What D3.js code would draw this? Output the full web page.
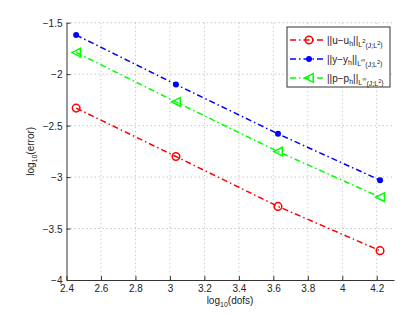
<!DOCTYPE html>
<html>
<head>
<meta charset="utf-8">
<script src="https://cdn.jsdelivr.net/npm/d3@7"></script>
<style>
  body { margin: 0; background: #fff; }
  svg { display: block; font-family: "Liberation Sans", Arial, sans-serif; }
  .grid line { stroke: #c8c8c8; stroke-dasharray: 1.5,2.5; }
</style>
</head>
<body>
<svg width="420" height="315"></svg>
<script>
// log10(dofs) for each refinement level
var logDofs = [2.456, 3.035, 3.627, 4.219];

// log10(error) for each norm
var errU = [-2.33, -2.80, -3.285, -3.715];
var errY = [-1.62, -2.10, -2.58, -3.03];
var errP = [-1.79, -2.27, -2.752, -3.195];

var xTicks = [2.4, 2.6, 2.8, 3, 3.2, 3.4, 3.6, 3.8, 4, 4.2];
var yTicks = [-4, -3.5, -3, -2.5, -2, -1.5];

var series = [
  { name: "u", sub: "h", sup: "2", vals: errU, color: "#ff0000", marker: "circle" },
  { name: "y", sub: "h", sup: "\u221e", vals: errY, color: "#0000ff", marker: "dot" },
  { name: "p", sub: "h", sup: "\u221e", vals: errP, color: "#00ff00", marker: "tri" }
];

var svg = d3.select("svg");
var pLeft = 66.5, pRight = 394, pTop = 22.7, pBottom = 280;

var x = d3.scaleLinear().domain([2.4, 4.3]).range([pLeft, pRight]);
var y = d3.scaleLinear().domain([-4, -1.5]).range([pBottom, pTop]);

// grid
var grid = svg.append("g").attr("class", "grid");
grid.selectAll(".gx").data(xTicks.slice(1)).enter().append("line")
    .attr("x1", function(d) { return x(d); }).attr("x2", function(d) { return x(d); })
    .attr("y1", pTop).attr("y2", pBottom);
grid.selectAll(".gy").data(yTicks.slice(1)).enter().append("line")
    .attr("x1", pLeft).attr("x2", pRight)
    .attr("y1", function(d) { return y(d); }).attr("y2", function(d) { return y(d); });

// axes, ticks pointing inward like matlab
var fmt = function(d) { return String(d).replace("-", "\u2212"); };
var xAxis = svg.append("g")
    .attr("transform", "translate(0," + pBottom + ")")
    .call(d3.axisTop(x).tickValues(xTicks).tickSize(4).tickSizeOuter(0).tickFormat(fmt));
xAxis.selectAll("text").attr("y", 12).attr("dy", "0").style("font-size", "10px").attr("fill", "#222");

var yAxis = svg.append("g")
    .attr("transform", "translate(" + pLeft + ",0)")
    .call(d3.axisRight(y).tickValues(yTicks).tickSize(4).tickSizeOuter(0).tickFormat(fmt));
yAxis.selectAll("text").attr("x", -4).attr("dy", "0.35em").attr("text-anchor", "end").style("font-size", "10px").attr("fill", "#222");

svg.selectAll(".domain").attr("stroke", "#333");
svg.selectAll(".tick line").attr("stroke", "#333");

// axis labels
var xl = svg.append("text").attr("x", 230).attr("y", 304).attr("text-anchor", "middle")
    .style("font-size", "10px").attr("fill", "#222");
xl.append("tspan").text("log");
xl.append("tspan").attr("dy", 3).style("font-size", "7px").text("10");
xl.append("tspan").attr("dy", -3).text("(dofs)");

var yl = svg.append("text").attr("transform", "translate(34," + y(-2.75) + ") rotate(-90)")
    .attr("text-anchor", "middle").style("font-size", "10px").attr("fill", "#222");
yl.append("tspan").text("log");
yl.append("tspan").attr("dy", 3).style("font-size", "7px").text("10");
yl.append("tspan").attr("dy", -3).text("(error)");

function drawMarker(g, s, cx, cy) {
  if (s.marker === "circle") {
    g.append("circle").attr("cx", cx).attr("cy", cy).attr("r", 3.8)
        .attr("fill", "none").attr("stroke", s.color).attr("stroke-width", 1.5);
  } else if (s.marker === "dot") {
    g.append("circle").attr("cx", cx).attr("cy", cy).attr("r", 3)
        .attr("fill", s.color);
  } else {
    var r = 4.3;
    g.append("path")
        .attr("d", "M" + (cx - r) + "," + cy + "L" + (cx + r) + "," + (cy - r) + "L" + (cx + r) + "," + (cy + r) + "Z")
        .attr("fill", "none").attr("stroke", s.color).attr("stroke-width", 1.5);
  }
}

var line = d3.line()
    .x(function(d, i) { return x(logDofs[i]); })
    .y(function(d) { return y(d); });

series.forEach(function(s) {
  var g = svg.append("g");
  g.append("path").attr("d", line(s.vals))
      .attr("fill", "none").attr("stroke", s.color).attr("stroke-width", 1.5)
      .attr("stroke-dasharray", "6,3,1.5,3");
  s.vals.forEach(function(v, i) { drawMarker(g, s, x(logDofs[i]), y(v)); });
});

// legend
var lg = svg.append("g");
lg.append("rect").attr("x", 287).attr("y", 27).attr("width", 103).attr("height", 60)
    .attr("fill", "#fff").attr("stroke", "#333").attr("stroke-width", 1);

series.forEach(function(s, i) {
  var ly = 40 + i * 19;
  var g = lg.append("g");
  g.append("line").attr("x1", 290).attr("x2", 323).attr("y1", ly).attr("y2", ly)
      .attr("stroke", s.color).attr("stroke-width", 1.5).attr("stroke-dasharray", "6,3,1.5,3");
  drawMarker(g, s, 309, ly);
  var t = g.append("text").attr("x", 327).attr("y", ly + 3.5).style("font-size", "10px").attr("fill", "#222");
  t.append("tspan").text("||" + s.name + "\u2212" + s.name);
  t.append("tspan").attr("dy", 2.5).style("font-size", "7px").text(s.sub);
  t.append("tspan").attr("dy", -2.5).text("||");
  t.append("tspan").attr("dy", 3).style("font-size", "7px").text("L");
  t.append("tspan").attr("dy", -4).style("font-size", "6px").text(s.sup);
  t.append("tspan").attr("dy", 5).style("font-size", "7px").text("(J;L");
  t.append("tspan").attr("dy", -3).style("font-size", "5.5px").text("2");
  t.append("tspan").attr("dy", 2).style("font-size", "7px").text(")");
});
</script>
</body>
</html>
